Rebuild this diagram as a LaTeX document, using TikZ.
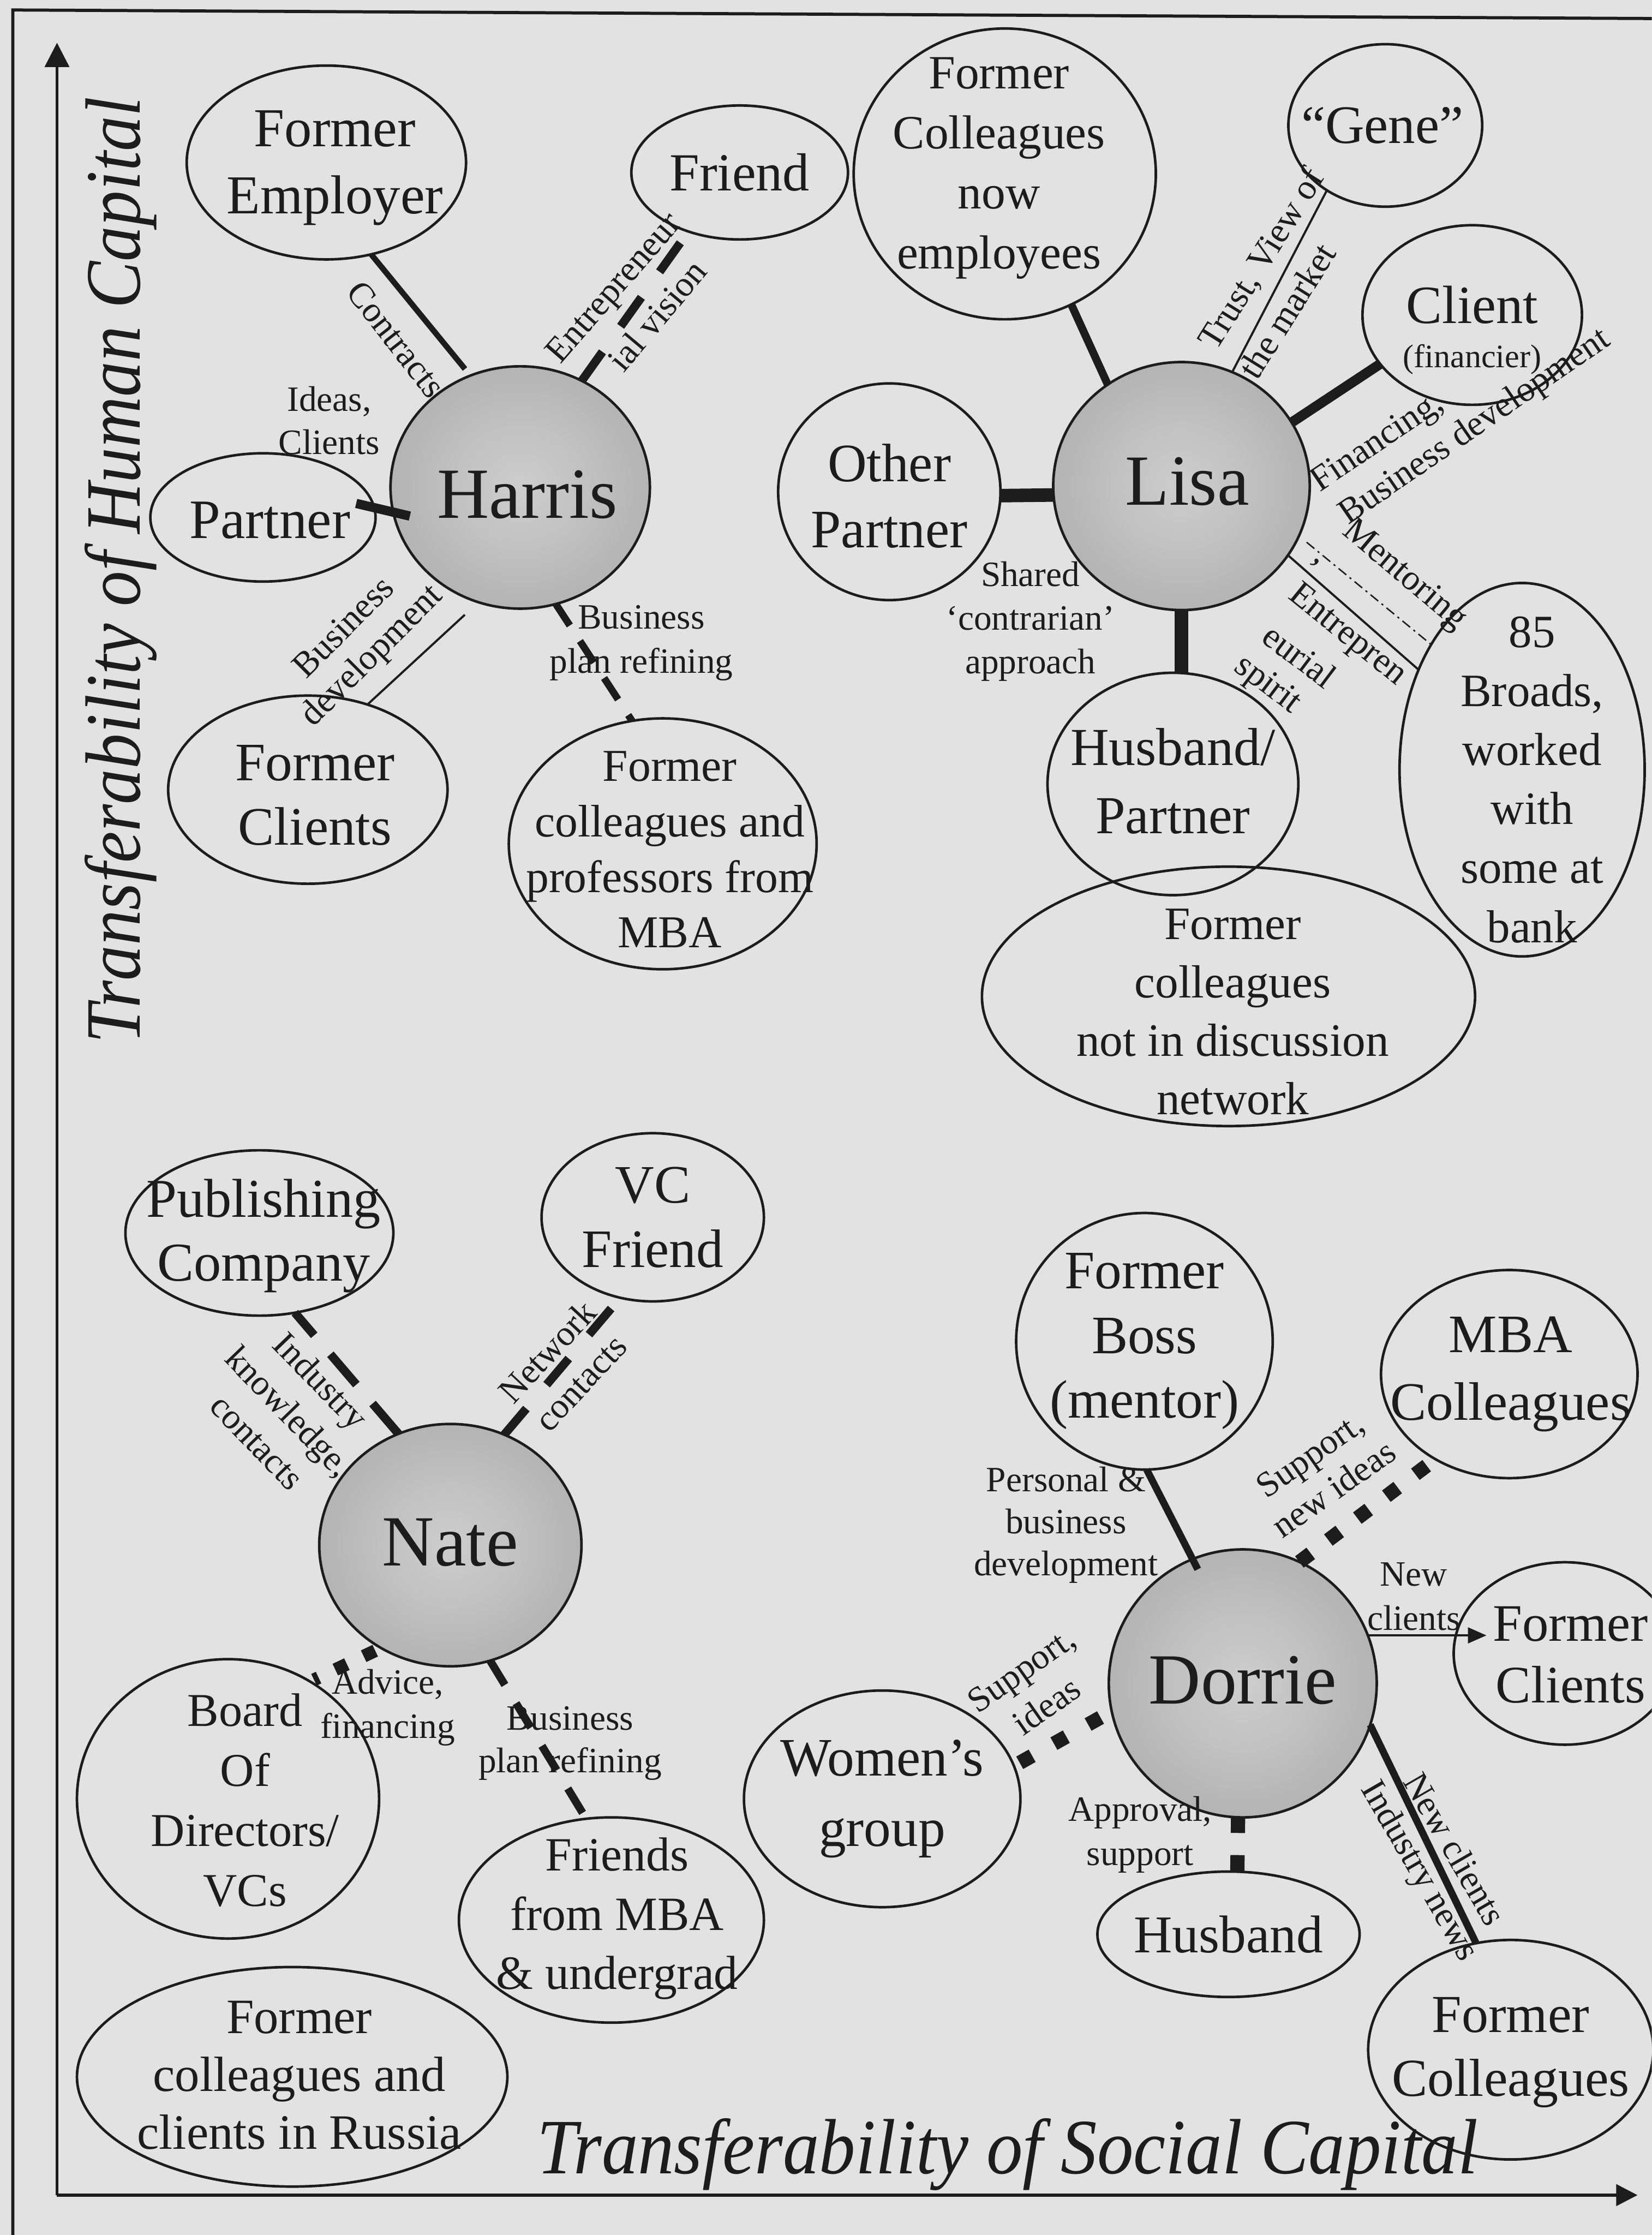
\documentclass[tikz,border=0pt]{standalone}
\usepackage{fontspec}
\setmainfont{Liberation Serif}
\usetikzlibrary{shapes.geometric,arrows.meta}
\definecolor{bgc}{RGB}{226,226,226}
\definecolor{ink}{RGB}{28,28,28}
\definecolor{hubin}{RGB}{206,206,206}
\definecolor{hubout}{RGB}{180,180,180}
\newcommand\fsName{\fontsize{50.5}{60}\selectfont}
\newcommand\fsLab{\fontsize{25}{30.5}\selectfont}
\newcommand\fsAxis{\fontsize{55}{60}\selectfont\itshape}
\newcommand\fz[2]{\fontsize{#1}{#2}\selectfont}
\tikzset{
 bub/.style={ellipse, draw=ink, line width=1.8pt, inner sep=0pt, outer sep=0pt},
 hubb/.style={bub, inner color=hubin, outer color=hubout},
 ntext/.style={text=ink, inner sep=0pt, align=center},
 lab/.style={text=ink, inner sep=0pt, align=center, font=\fsLab},
 cline/.style={draw=ink, line cap=butt},
 solidA/.style={cline, line width=4pt},
 solidB/.style={cline, line width=5.5pt},
 solidC/.style={cline, line width=9.5pt},
 solidD/.style={cline, line width=5pt},
 thinl/.style={cline, line width=1.5pt},
 dashA/.style={cline, line width=6pt, dash pattern=on 25pt off 22pt},
 dashB/.style={cline, line width=5pt, dash pattern=on 18pt off 13pt},
 sqd/.style={cline, line width=10pt, dash pattern=on 10pt off 15.5pt},
 dashdotl/.style={cline, line width=1pt, dash pattern=on 7pt off 3pt on 1.5pt off 3pt},
 axisl/.style={draw=ink, line width=2pt},
 framel/.style={draw=ink, line width=2.2pt},
}
% name, x, y, rx, ry, shape style, text options, text
\newcommand\bubble[8]{%
  \node[#6, minimum width={2*#4pt}, minimum height={2*#5pt}] (#1) at (#2,#3) {};
  \node[ntext,#7] (#1-t) at (#1.center) {#8};}
\begin{document}
\begin{tikzpicture}[x=1pt, y=-1pt]
\useasboundingbox (0,0) rectangle (1159,1568);
\fill[bgc] (0,0) rectangle (1159,1568);
\clip (0,0) rectangle (1159,1568);

% frame and axes
\coordinate (fb) at (9,1568);
\coordinate (ftl) at (9,7);
\coordinate (ftr) at (1159,13);
\draw[framel] (fb) -- (ftl) -- (ftr);
\coordinate (O) at (40,1540);
\coordinate (ytip) at (40,30);
\coordinate (xtip) at (1149,1540);
\draw[axisl, -{Triangle[length=17pt,width=17pt]}] (O) -- (ytip);
\draw[axisl, -{Triangle[length=15pt,width=15pt]}] (O) -- (xtip);
\node[text=ink, font=\fsAxis, rotate=90, anchor=base, inner sep=0pt] (ylab) at (98,400) {\scalebox{0.9}[1]{Transferability of Human Capital}};
\node[text=ink, font=\fsAxis, anchor=base, inner sep=0pt] (xlab) at (707,1525) {\scalebox{0.925}[1]{Transferability of Social Capital}};

% ---------------- Harris
\bubble{femp}{229}{114}{98}{68}{bub}{font=\fz{38.5}{47}, xshift=6pt, yshift=-4pt}{Former\\Employer}
\bubble{friend}{519}{121}{76}{47}{bub}{font=\fz{37.6}{45}}{Friend}
\bubble{harris}{365}{342}{91}{85}{hubb}{font=\fsName, xshift=5pt, yshift=-5pt}{Harris}
\bubble{hpartner}{184.5}{363}{79}{45}{bub}{font=\fz{39}{46}, xshift=5pt, yshift=-2pt}{Partner}
\bubble{fclients}{216}{554}{98}{66}{bub}{font=\fz{38}{45}, xshift=5pt, yshift=-4pt}{Former\\Clients}
\bubble{fcolmba}{465}{592}{108}{88}{bub}{font=\fz{32}{39}, xshift=5pt, yshift=-4pt}{Former\\colleagues and\\professors from\\MBA}

\draw[solidA, shorten >=6pt] (femp.-64) -- (harris.114);
\draw[dashA] (harris.60) -- (friend.229);
\draw[solidC, line width=6.5pt, shorten <=-13pt, shorten >=-12pt] (hpartner.5) -- (harris.191);
\draw[thinl, shorten >=13pt] (fclients.55) -- (harris.250);
\draw[dashB] (harris.-73) -- (fcolmba.104);

\node[lab, rotate=-52] (t-contracts) at (278,238) {Contracts};
\node[lab, font=\fz{25}{30}] (t-ideas) at (231,295) {Ideas,\\Clients};
\node[lab, rotate=49] (t-ent1) at (432,203) {Entrepreneur};
\node[lab, rotate=50] (t-ent2) at (461,221) {ial vision};
\node[lab, rotate=45] (t-bd1) at (240.5,439.5) {Business};
\node[lab, rotate=45] (t-bd2) at (261.5,460.5) {development};
\node[lab, font=\fz{25}{31}] (t-bpr) at (450,451) {Business\\plan refining};

% ---------------- Lisa
\bubble{fcnow}{705}{122}{106}{102}{bub}{font=\fz{33.5}{42}, xshift=-4pt, yshift=4pt}{Former\\Colleagues\\now\\employees}
\bubble{gene}{972}{88}{68}{57}{bub}{font=\fz{38}{45}, xshift=-2pt}{“Gene”}
\bubble{client}{1033}{221}{77}{63}{bub}{font=\fz{37.8}{45}, yshift=7pt}{Client}
\node[ntext, font=\fz{23}{28}] (client-t2) at (1033,252) {(financier)};
\bubble{lisa}{829}{341}{90}{87}{hubb}{font=\fsName, xshift=4pt, yshift=3pt}{Lisa}
\bubble{opartner}{624}{345}{78}{76}{bub}{font=\fz{38}{46}, yshift=-3pt}{Other\\Partner}
\bubble{hpart}{823}{550}{88}{78}{bub}{font=\fz{37.5}{47.5}, yshift=2pt}{Husband/\\Partner}
\bubble{broads}{1068}{540}{86}{131}{bub}{font=\fz{32.5}{41.4}, xshift=7pt, yshift=-7pt}{85\\Broads,\\worked\\with\\some at\\bank}
\bubble{fcnot}{862}{699}{173}{91}{bub}{font=\fz{32.6}{41}, xshift=3pt, yshift=-11pt}{Former\\colleagues\\not in discussion\\network}

\draw[solidB] (fcnow.-63) -- (lisa.126);
\draw[thinl] (gene.228) -- (lisa.66);
\draw[solidB, line width=7pt] (lisa.30) -- (client.208);
\draw[solidC] (opartner.-2) -- (lisa.184);
\draw[solidC] (lisa.south) -- (lisa.south |- hpart.north);
\draw[thinl] (lisa.-33) -- (broads.136);
\draw[dashdotl, shorten <=7pt] (lisa.-23) -- (broads.126);

\node[lab, rotate=58] (t-trust) at (886,182) {Trust, View of};
\node[lab, rotate=58] (t-market) at (903,218) {the market};
\node[lab, rotate=34] (t-fin) at (967,311) {Financing,};
\node[lab, rotate=34.5] (t-busdev) at (1035,300) {Business development};
\node[lab, rotate=-40] (t-ment) at (985,404) {Mentoring};
\node[lab, rotate=-40] (t-comma) at (923,395) {,};
\node[lab, rotate=-39] (t-entr1) at (945,446) {Entrepren};
\node[lab, rotate=-37] (t-entr2) at (912,460) {eurial};
\node[lab, rotate=-37] (t-entr3) at (889,481) {spirit};
\node[lab, font=\fz{25}{30.5}] (t-shared) at (723,436) {Shared\\‘contrarian’\\approach};

% ---------------- Nate
\bubble{pub}{182}{865}{94}{58}{bub}{font=\fz{38.4}{45}, xshift=3pt, yshift=-2pt}{Publishing\\Company}
\bubble{vcf}{458}{854}{78}{59}{bub}{font=\fz{38}{45}}{VC\\Friend}
\bubble{nate}{316}{1084}{92}{85}{hubb}{font=\fsName, yshift=2pt}{Nate}
\bubble{board}{160}{1262}{106}{98}{bub}{font=\fz{33}{42}, xshift=12pt, yshift=-1pt}{Board\\Of\\Directors/\\VCs}
\bubble{fmba}{429}{1347}{107}{72}{bub}{font=\fz{33.5}{41.5}, xshift=4pt, yshift=1pt}{Friends\\from MBA\\\& undergrad}
\bubble{russia}{205}{1457}{151}{77}{bub}{font=\fz{34.7}{40.5}, xshift=5pt, yshift=1pt}{Former\\colleagues and\\clients in Russia}

\draw[cline, line width=6pt, dash pattern=on 28pt off 17.5pt] (nate.115) -- (pub.-66);
\draw[cline, line width=6pt, dash pattern=on 24pt off 22pt] (nate.64) -- (vcf.248);
\draw[sqd, line width=9pt, dash pattern=on 9pt off 13pt, dash phase=17.5pt, shorten >=3pt] (nate.236) -- (board.55);
\draw[cline, line width=5.5pt, dash pattern=on 20pt off 15pt] (nate.-71) -- (fmba.104);

\node[lab, rotate=-46, font=\fz{25}{31}] (t-ind) at (203,990) {Industry\\knowledge,\\contacts};
\node[lab, rotate=47, font=\fz{25}{32}] (t-net) at (395.5,959) {Network\\contacts};
\node[lab, font=\fz{25}{31}] (t-adv) at (272,1198) {Advice,\\financing};
\node[lab, font=\fz{25}{30}] (t-bpr2) at (400,1223) {Business\\plan refining};

% ---------------- Dorrie
\bubble{fboss}{803}{941}{90}{90}{bub}{font=\fz{38}{45.5}}{Former\\Boss\\(mentor)}
\bubble{mbacol}{1059}{964}{90}{73}{bub}{font=\fz{38}{47.4}, xshift=1pt}{MBA\\Colleagues}
\bubble{dorrie}{872}{1181}{94}{94}{hubb}{font=\fsName, yshift=2pt}{Dorrie}
\bubble{fclientsR}{1098}{1160}{78}{64}{bub}{font=\fz{37}{43.5}, xshift=4pt, yshift=-1pt}{Former\\Clients}
\bubble{wgroup}{619}{1262}{97}{76}{bub}{font=\fz{38}{49.6}}{Women’s\\group}
\bubble{husb}{862}{1357}{92}{44}{bub}{font=\fz{37.3}{45}}{Husband}
\bubble{fcolR}{1060}{1438}{100}{77}{bub}{font=\fz{37.5}{45}, yshift=-2pt}{Former\\Colleagues}

\draw[solidD, shorten >=-8pt] (fboss.-89) -- (dorrie.112);
\draw[sqd] (dorrie.65) -- (mbacol.229);
\draw[thinl, -{Triangle[length=13pt,width=11pt]}, shorten >=-23pt] (dorrie.21) -- (dorrie.21 -| fclientsR.west);
\draw[sqd, dash pattern=on 10pt off 17.5pt, dash phase=18.5pt] (dorrie.192) -- (wgroup.14);
\draw[sqd, dash pattern=on 11pt off 15.5pt] (dorrie.-92) -- (husb.82);
\draw[solidD] (dorrie.-18) -- (fcolR.108);

\node[lab, font=\fz{25}{29.5}] (t-pers) at (748,1070) {Personal \&\\business\\development};
\node[lab, rotate=35, font=\fz{25}{29}] (t-sup1) at (927.5,1032.5) {Support,\\new ideas};
\node[lab, font=\fz{25}{31}] (t-newc) at (992,1120) {New\\clients};
\node[lab, rotate=35, font=\fz{25}{31}] (t-sup2) at (725.5,1184) {Support,\\ideas};
\node[lab, font=\fz{25}{31}] (t-appr) at (800,1287) {Approval,\\support};
\node[lab, rotate=-60] (t-newc2) at (1021,1297) {New clients};
\node[lab, rotate=-60] (t-indn) at (995,1313) {Industry news};
\end{tikzpicture}
\end{document}
